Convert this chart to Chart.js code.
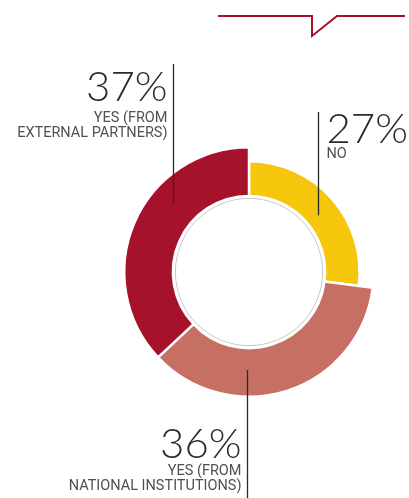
<!DOCTYPE html>
<html><head><meta charset="utf-8">
<script src="https://cdn.jsdelivr.net/npm/chart.js@4"></script>
<style>html,body{margin:0;padding:0;background:#fff;}</style>
</head><body>
<canvas id="c" width="409" height="498" style="width:409px;height:498px;display:block"></canvas>
<script>
// ---- data ----
const categories = ['NO', 'YES (FROM NATIONAL INSTITUTIONS)', 'YES (FROM EXTERNAL PARTNERS)'];
const labelLines = [['NO'], ['YES (FROM', 'NATIONAL INSTITUTIONS)'], ['YES (FROM', 'EXTERNAL PARTNERS)']];
const values = [27, 36, 37];
const colors = ['#F6C60C', '#C66F63', '#A6112C'];
const ringThickness = [0.71, 1, 1];

// label layout (leader line anchored inside each arc)
const leaders = [
  {frac: 0.52, depth: 0.38, lineEnd: 112, side: 'right', numY: 143, subY: [158]},
  {frac: 0.647, depth: 0.45, lineEnd: 498, side: 'left', numY: 458, subY: [475, 490]},
  {frac: 0.642, depth: 0.55, lineEnd: 64, side: 'left', numY: 101, subY: [122, 137]}
];

const decoPlugin = {
  id: 'deco',
  afterDatasetsUpdate(chart) {
    const meta = chart.getDatasetMeta(0);
    meta.data.forEach((arc, i) => {
      arc.outerRadius = arc.innerRadius + (arc.outerRadius - arc.innerRadius) * ringThickness[i];
    });
  },
  afterDraw(chart) {
    const ctx = chart.ctx;
    const meta = chart.getDatasetMeta(0);
    const a0 = meta.data[0];
    ctx.save();
    // thin grey inner circle
    ctx.beginPath();
    ctx.arc(a0.x, a0.y, a0.innerRadius - 2.5, 0, Math.PI * 2);
    ctx.strokeStyle = '#c8c8c8';
    ctx.lineWidth = 1;
    ctx.stroke();
    // leader lines and labels
    meta.data.forEach((arc, i) => {
      const L = leaders[i];
      const ang = arc.startAngle + L.frac * (arc.endAngle - arc.startAngle);
      const r = arc.innerRadius + L.depth * (arc.outerRadius - arc.innerRadius);
      const x = Math.round(arc.x + Math.cos(ang) * r) + 0.5;
      const y = arc.y + Math.sin(ang) * r;
      ctx.beginPath();
      ctx.moveTo(x, y);
      ctx.lineTo(x, L.lineEnd);
      ctx.strokeStyle = '#2a2a2a';
      ctx.lineWidth = 1.3;
      ctx.stroke();
      const right = L.side === 'left';
      ctx.textAlign = right ? 'right' : 'left';
      ctx.textBaseline = 'alphabetic';
      const tx = right ? x - 6 : x + 8;
      ctx.fillStyle = '#2b2b2b';
      ctx.font = '300 42px Lato';
      ctx.fillText(values[i] + '%', tx, L.numY);
      ctx.fillStyle = '#505050';
      ctx.font = '14.5px Roboto';
      labelLines[i].forEach((t, k) => ctx.fillText(t, tx, L.subY[k]));
    });
    // top callout decoration
    ctx.beginPath();
    ctx.moveTo(218, 16);
    ctx.lineTo(312, 16);
    ctx.lineTo(312, 36);
    ctx.lineTo(337, 16);
    ctx.lineTo(405, 16);
    ctx.strokeStyle = '#A6112C';
    ctx.lineWidth = 2;
    ctx.lineJoin = 'miter';
    ctx.stroke();
    ctx.restore();
  }
};

new Chart(document.getElementById('c'), {
  type: 'doughnut',
  data: {
    labels: categories,
    datasets: [{
      data: values,
      backgroundColor: colors,
      borderColor: '#ffffff',
      borderWidth: 2.5,
      hoverOffset: 0
    }]
  },
  options: {
    responsive: false,
    animation: false,
    events: [],
    cutout: '61%',
    layout: {padding: {left: 123, right: 34, top: 146, bottom: 100}},
    plugins: {legend: {display: false}, tooltip: {enabled: false}}
  },
  plugins: [decoPlugin]
});
</script>
</body></html>
